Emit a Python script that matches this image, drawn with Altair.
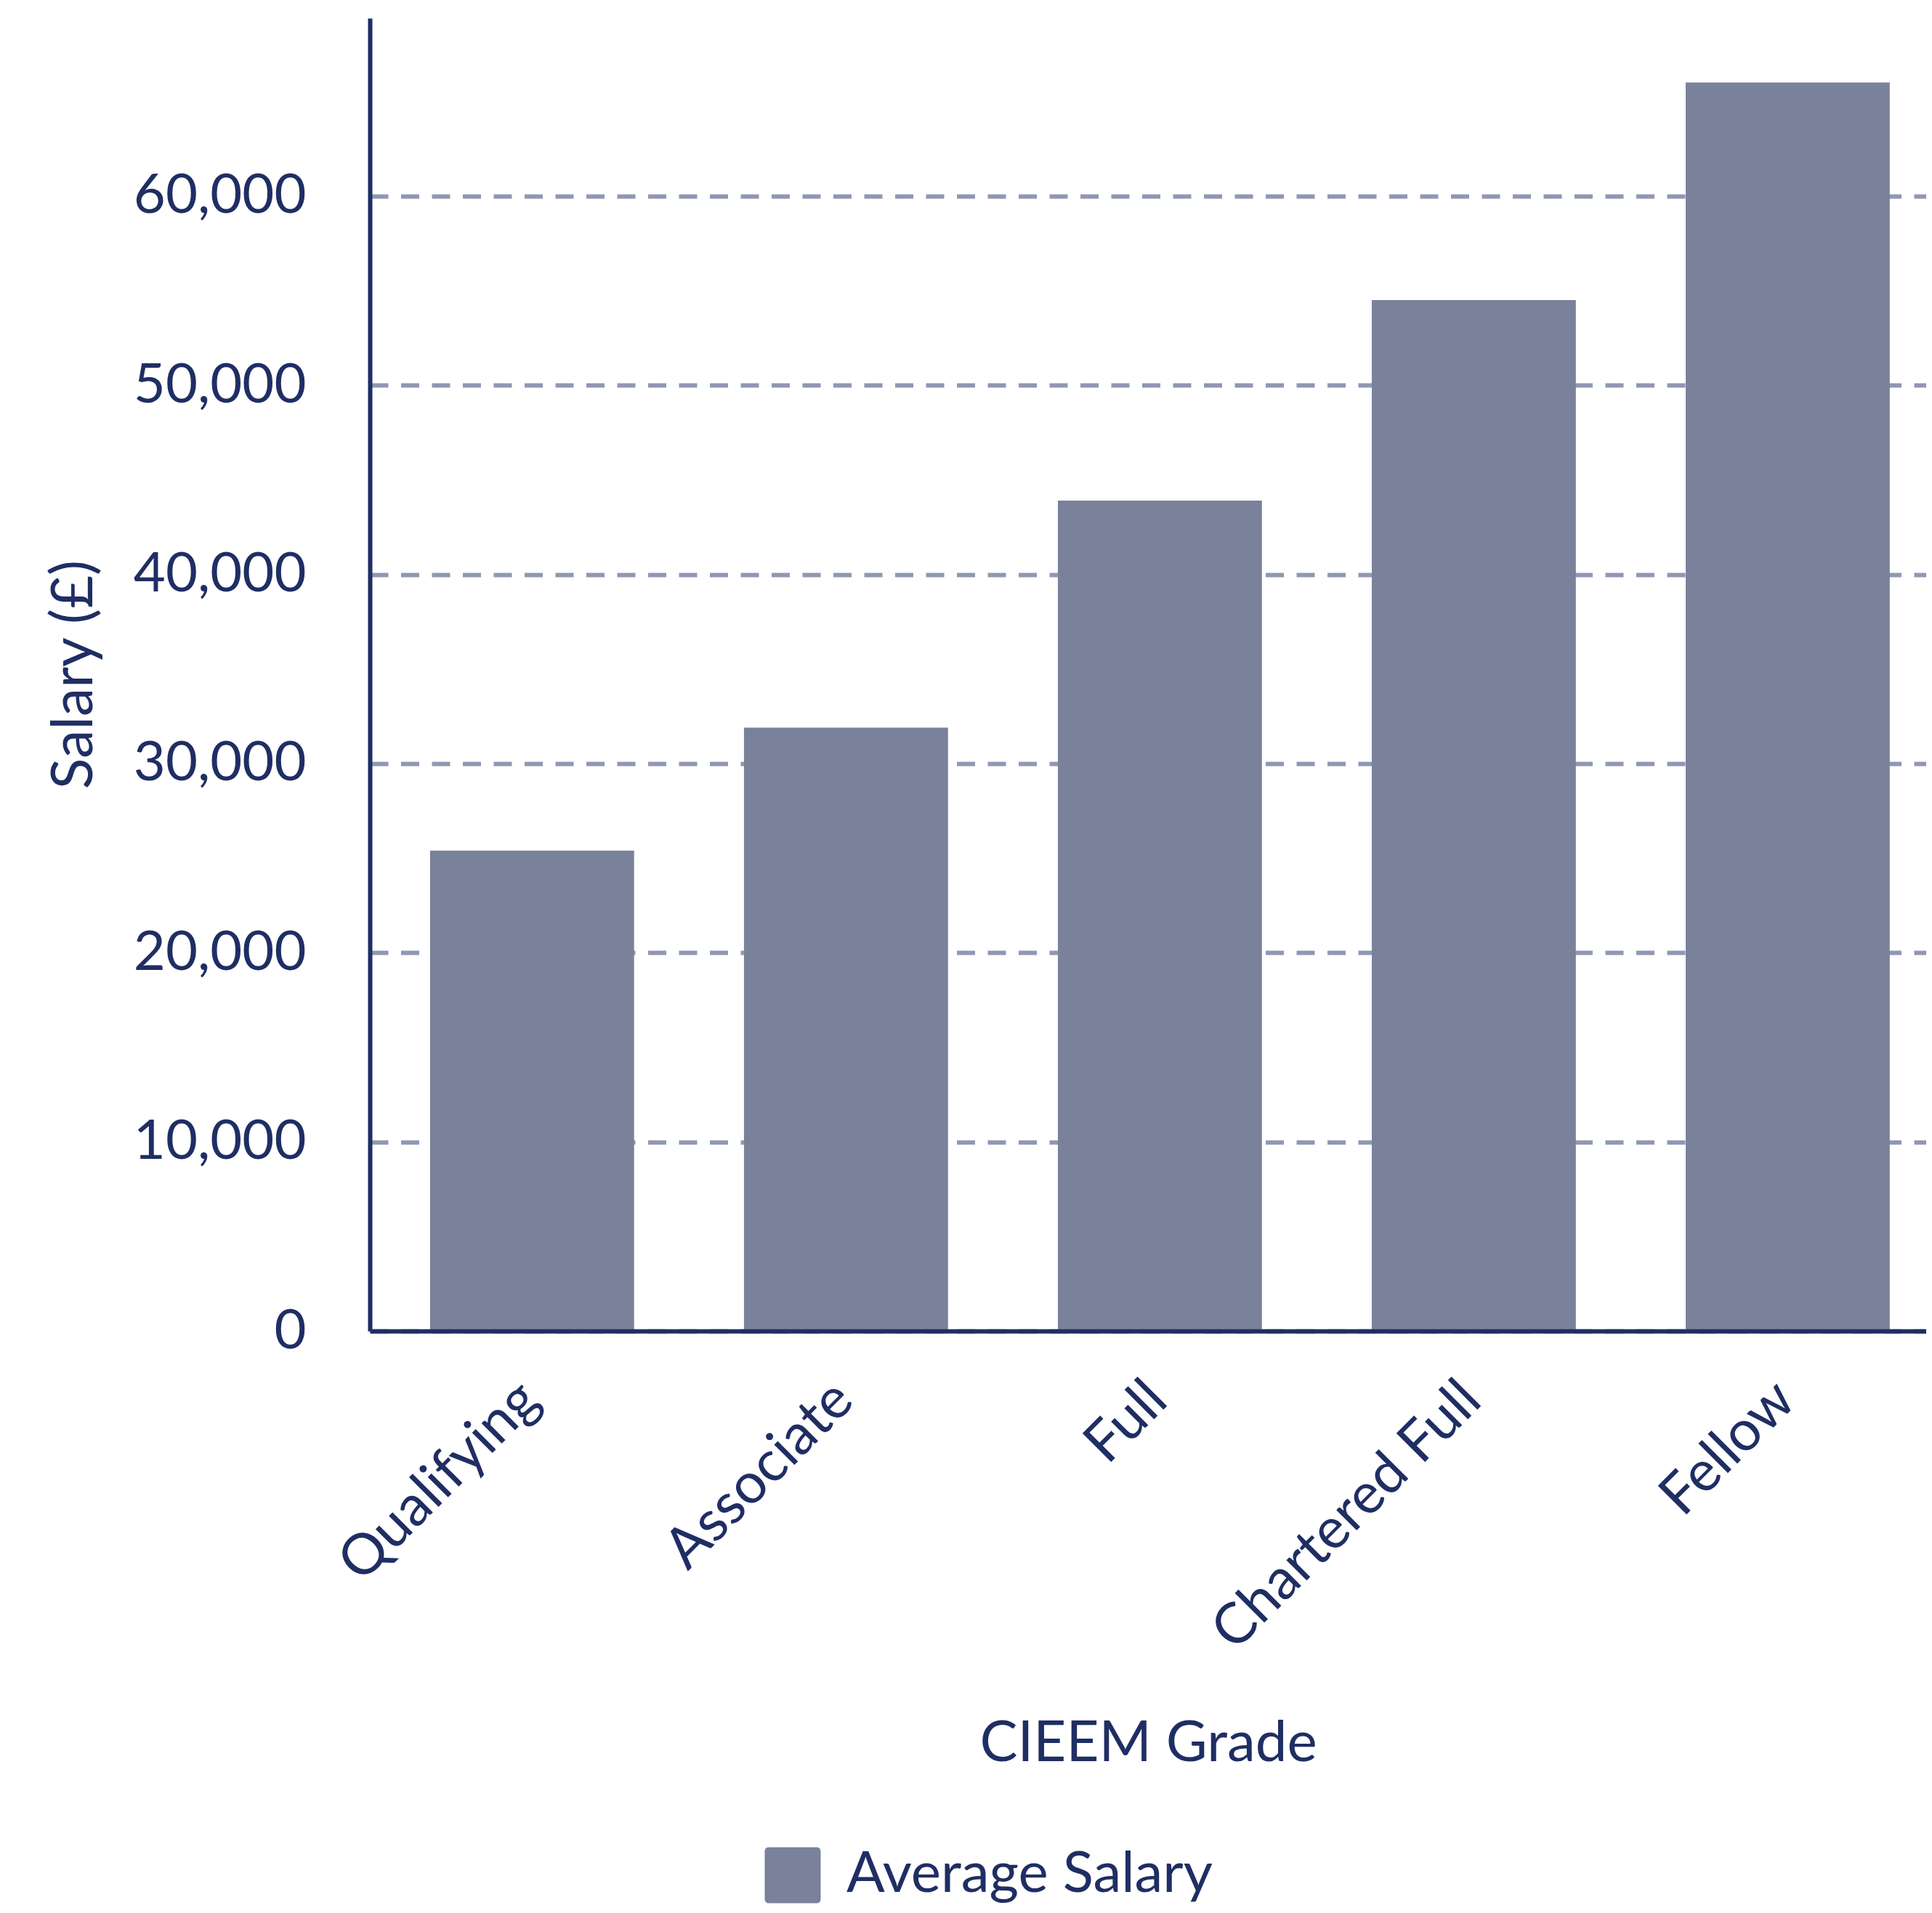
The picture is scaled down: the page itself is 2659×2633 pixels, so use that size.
import altair as alt
import pandas as pd

grades = ["Qualifying", "Associate", "Full", "Chartered Full", "Fellow"]
salaries = [25400, 31900, 43900, 54500, 66000]
series = ["Average Salary"] * len(grades)
y_ticks = [0, 10000, 20000, 30000, 40000, 50000, 60000]

NAVY = "#1f2e63"
BAR = "#7a819b"
GRID = "#8f97b3"
FONT = "Lato"

df = pd.DataFrame({"grade": grades, "salary": salaries, "series": series})

rounded_square = (
    "M-0.85,-1 L0.85,-1 Q1,-1 1,-0.85 L1,0.85 Q1,1 0.85,1 "
    "L-0.85,1 Q-1,1 -1,0.85 L-1,-0.85 Q-1,-1 -0.85,-1 Z"
)

chart = (
    alt.Chart(df)
    .mark_bar()
    .encode(
        x=alt.X(
            "grade:N",
            sort=grades,
            title="CIEEM Grade",
            scale=alt.Scale(paddingInner=0.35, paddingOuter=0.154, align=0.623),
            axis=alt.Axis(
                labelAngle=-45,
                labelFont=FONT,
                labelFontSize=78,
                labelColor=NAVY,
                labelPadding=55,
                labelOffset=-30,
                labelLimit=1000,
                ticks=False,
                tickSize=0,
                domainColor=NAVY,
                domainWidth=6,
                titleFont=FONT,
                titleFontSize=78,
                titleFontWeight="normal",
                titleColor=NAVY,
                titleY=568,
                titleBaseline="middle",
                zindex=1,
            ),
        ),
        y=alt.Y(
            "salary:Q",
            title="Salary (£)",
            scale=alt.Scale(domain=[0, 69400], nice=False),
            axis=alt.Axis(
                values=y_ticks,
                format=",.0f",
                labelFont=FONT,
                labelFontSize=76,
                labelColor=NAVY,
                labelPadding=88,
                labelLimit=1000,
                ticks=False,
                tickSize=0,
                domainColor=NAVY,
                domainWidth=6,
                grid=True,
                gridColor=GRID,
                gridWidth=6,
                gridDash=[25, 17.5],
                titleFont=FONT,
                titleFontSize=79,
                titleFontWeight="normal",
                titleColor=NAVY,
                titleAngle=270,
                titleX=-407,
                titleY=903,
                titleAlign="center",
                titleBaseline="middle",
            ),
        ),
        color=alt.Color(
            "series:N",
            scale=alt.Scale(range=[BAR]),
            legend=alt.Legend(
                title=None,
                orient="none",
                legendX=543,
                legendY=2517,
                padding=0,
                symbolType=rounded_square,
                symbolSize=5929,
                symbolStrokeWidth=0,
                symbolOpacity=1,
                labelFont=FONT,
                labelFontSize=78,
                labelColor=NAVY,
                labelOffset=35,
                labelLimit=1000,
            ),
        ),
    )
    .properties(
        width=2142,
        height=1807,
        autosize=alt.AutoSizeParams(type="none"),
        padding={"left": 501, "top": 17, "right": 0, "bottom": 790},
    )
    .configure_view(stroke=None)
)

chart.save("out.html", embed_options={"renderer": "svg", "actions": False})
